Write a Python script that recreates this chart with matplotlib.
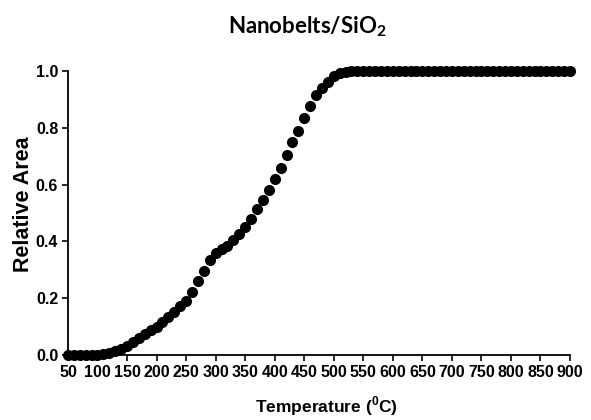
import matplotlib
matplotlib.use("Agg")
from matplotlib import pyplot as plt

temperature = list(range(50, 910, 10))
relative_area = [
    0.0, 0.0, 0.0, 0.0, 0.0, 0.0, 0.002, 0.005, 0.012, 0.02,   # 50-140
    0.03, 0.045, 0.06, 0.075, 0.088, 0.10, 0.117, 0.135, 0.152, 0.172,  # 150-240
    0.19, 0.22, 0.26, 0.295, 0.335, 0.36, 0.372, 0.385, 0.405, 0.425,  # 250-340
    0.45, 0.48, 0.515, 0.545, 0.58, 0.62, 0.66, 0.705, 0.75, 0.79,  # 350-440
    0.835, 0.875, 0.915, 0.94, 0.962, 0.982, 0.993, 0.998, 1.0, 1.0,  # 450-540
]
relative_area += [1.0] * (len(temperature) - len(relative_area))

x_ticks = list(range(50, 950, 50))
y_ticks = [0.0, 0.2, 0.4, 0.6, 0.8, 1.0]

plt.rcParams["mathtext.fontset"] = "custom"
plt.rcParams["mathtext.rm"] = "Liberation Sans:bold"
plt.rcParams["mathtext.sf"] = "Lato:bold"

fig = plt.figure(figsize=(5.91, 4.2), dpi=100)
ax = fig.add_axes([0.115, 0.155, 0.8495, 0.676])

ax.plot(temperature, relative_area, "o", color="black", markersize=8,
        markeredgewidth=0, clip_on=False, zorder=3)

ax.set_xlim(50, 900)
ax.set_ylim(0, 1.0)
ax.set_xticks(x_ticks)
ax.set_yticks(y_ticks)
ax.set_xticklabels([str(t) for t in x_ticks])
ax.set_yticklabels([f"{v:.1f}" for v in y_ticks])

for side in ["top", "right"]:
    ax.spines[side].set_visible(False)
for side in ["left", "bottom"]:
    ax.spines[side].set_linewidth(1.3)
ax.tick_params(direction="out", length=4, width=1.2, pad=3)
for lab in ax.get_xticklabels() + ax.get_yticklabels():
    lab.set_family("Liberation Sans")
    lab.set_fontweight("bold")
    lab.set_fontsize(11.5)

ax.set_xlabel("Temperature ($^{0}$C)", family="Liberation Sans",
              fontweight="bold", fontsize=12.5, va="center")
ax.xaxis.set_label_coords(0.514, -0.18)
ax.set_ylabel("Relative Area", family="Liberation Sans",
              fontweight="bold", fontsize=15.5, va="center")
ax.yaxis.set_label_coords(-0.088, 0.53)
fig.text(0.52, 0.936, r"Nanobelts/SiO$_\mathsf{2}$", family="Lato",
         fontweight="bold", fontsize=16, ha="center", va="center")

plt.savefig("out.png", dpi=100)
